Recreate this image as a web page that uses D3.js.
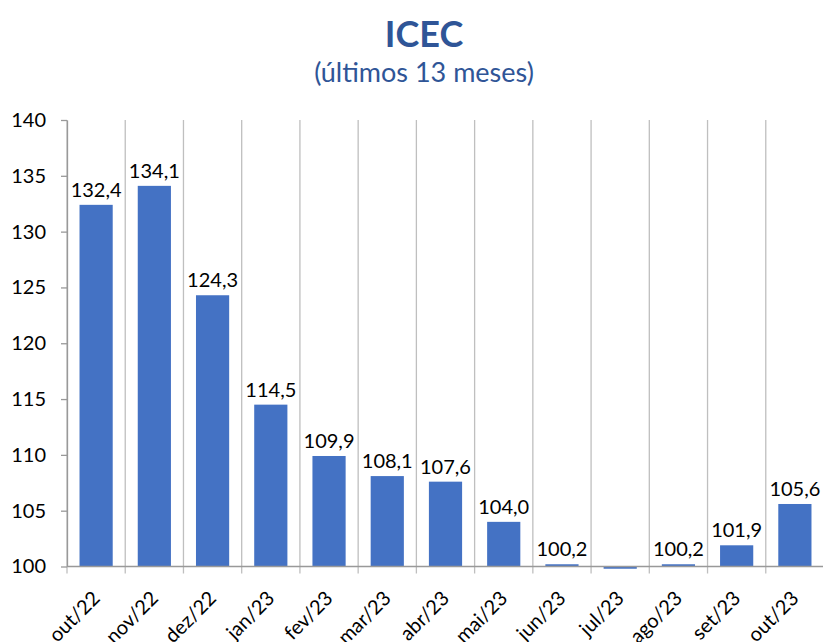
<!DOCTYPE html>
<html>
<head>
<meta charset="utf-8">
<script src="https://cdn.jsdelivr.net/npm/d3@7"></script>
<style>
  body { margin: 0; background: #fff; }
  text { font-family: Lato, "Open Sans", sans-serif; }
</style>
</head>
<body>
<div id="chart-area"></div>
<script>

// Data
let months = ["out/22", "nov/22", "dez/22", "jan/23", "fev/23", "mar/23", "abr/23",
              "mai/23", "jun/23", "jul/23", "ago/23", "set/23", "out/23"];
let values = [132.4, 134.1, 124.3, 114.5, 109.9, 108.1, 107.6, 104.0, 100.2, 99.8, 100.2, 101.9, 105.6];
let yTicks = [100, 105, 110, 115, 120, 125, 130, 135, 140];

let W = 823, H = 642;
let margin = {top: 120, right: -1, bottom: 75.5, left: 67};
let width = W - margin.left - margin.right,
    height = H - margin.top - margin.bottom;

let svg = d3.select("#chart-area").append("svg")
    .attr("width", W)
    .attr("height", H);

// Title
svg.append("text")
    .attr("x", 424).attr("y", 47)
    .attr("text-anchor", "middle")
    .style("font-size", "36px").style("font-weight", "bold")
    .style("fill", "#2F5597")
    .text("ICEC");
svg.append("text")
    .attr("x", 424).attr("y", 82)
    .attr("text-anchor", "middle")
    .style("font-size", "27px")
    .style("fill", "#2F5597")
    .text("(últimos 13 meses)");

let g = svg.append("g")
    .attr("transform", "translate(" + margin.left + "," + margin.top + ")");

// Scales
let x = d3.scaleBand()
    .domain(months)
    .range([0, width])
    .paddingInner(0.43)
    .paddingOuter(0.215);

let y = d3.scaleLinear()
    .domain([100, 140])
    .range([height, 0]);

let step = x.step();

// vertical category gridlines (also act as tick marks under the axis)
g.selectAll(".vgrid")
  .data(d3.range(months.length + 1))
  .enter().append("line")
    .attr("class", "vgrid")
    .attr("x1", i => i * step)
    .attr("x2", i => i * step)
    .attr("y1", 0)
    .attr("y2", height + 7)
    .attr("stroke", "#bfbfbf")
    .attr("stroke-width", 1.3);

// y axis
let yAxis = d3.axisLeft(y).tickValues(yTicks).tickSize(6).tickSizeOuter(0).tickPadding(15);
let yGroup = g.append("g").attr("class", "axis y-axis").call(yAxis);
yGroup.select(".domain").attr("stroke", "#999").attr("stroke-width", 1.3);
yGroup.selectAll(".tick line").attr("stroke", "#999").attr("stroke-width", 1.3);
yGroup.selectAll(".tick text")
    .style("font-size", "20px").style("fill", "#000")
    .attr("font-family", null);

// bars
g.selectAll(".bar")
  .data(values)
  .enter().append("rect")
    .attr("class", "bar")
    .attr("x", (d, i) => x(months[i]))
    .attr("y", d => Math.min(y(d), y(100)))
    .attr("width", x.bandwidth())
    .attr("height", d => Math.abs(y(100) - y(d)))
    .attr("fill", "#4472C4");

// x axis line
g.append("line")
    .attr("x1", 0).attr("x2", width)
    .attr("y1", height).attr("y2", height)
    .attr("stroke", "#999").attr("stroke-width", 1.3);

// value labels (hidden for values under the axis minimum)
g.selectAll(".label")
  .data(values)
  .enter().append("text")
    .attr("class", "label")
    .attr("x", (d, i) => x(months[i]) + x.bandwidth() / 2)
    .attr("y", d => y(d) - 8)
    .attr("text-anchor", "middle")
    .attr("display", d => d < 100 ? "none" : null)
    .style("font-size", "20px")
    .style("fill", "#000")
    .text(d => d.toFixed(1).replace(".", ","));

// x labels
let xAxis = d3.axisBottom(x).tickSize(0).tickPadding(0);
let xGroup = g.append("g")
    .attr("class", "axis x-axis")
    .attr("transform", "translate(0," + height + ")")
    .call(xAxis);
xGroup.select(".domain").remove();
xGroup.selectAll(".tick text")
    .attr("font-family", null)
    .style("font-size", "20px").style("fill", "#000")
    .attr("text-anchor", "end")
    .attr("dy", null)
    .attr("y", 0)
    .attr("transform", "translate(5,33) rotate(-45)");

</script>
</body>
</html>
